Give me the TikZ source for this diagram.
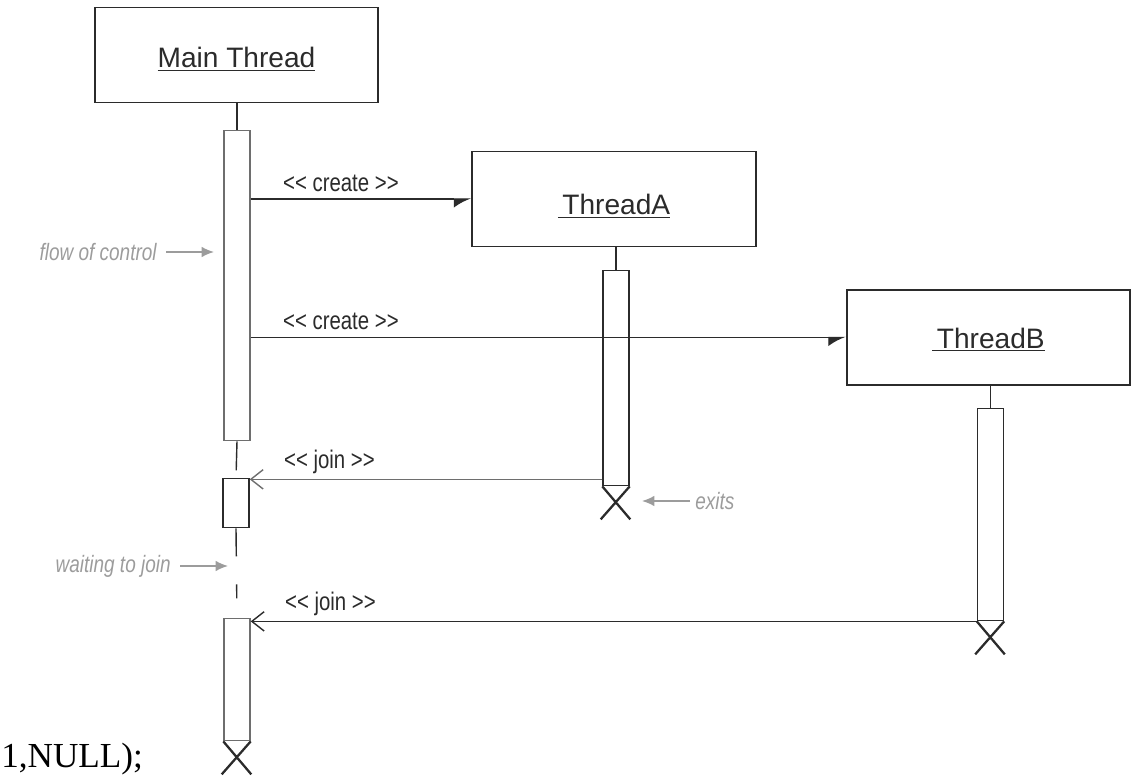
\documentclass[tikz,border=0pt]{standalone}
\usepackage{fontspec}
\setmainfont{Liberation Sans}
\newfontfamily\narrowfont{Liberation Sans}[FakeStretch=0.8]
\newfontfamily\codefont{Liberation Serif}
\usetikzlibrary{arrows.meta, positioning}
\definecolor{inkdark}{HTML}{2B2B2B}
\definecolor{bargray}{HTML}{6E6E6E}
\definecolor{notegray}{HTML}{9C9C9C}

\tikzset{
  thread/.style={draw=inkdark, line width=0.9pt, minimum width=5.67cm, minimum height=1.9cm,
    inner sep=0pt, font=\fontsize{16}{18}\selectfont, text=inkdark},
  activation/.style={draw=inkdark, line width=0.8pt, fill=white, minimum width=0.52cm,
    inner sep=0pt, anchor=north},
  lifeline/.style={draw=inkdark, line width=0.8pt},
  createmsg/.style={draw=inkdark, line width=0.8pt, -{Latex[harpoon,swap,length=9pt,width=10pt]}},
  joinmsg/.style={line width=0.8pt, -{Straight Barb[length=7pt,width=11pt,line width=0.8pt]}},
  msglabel/.style={font=\narrowfont\fontsize{14.5}{16}\selectfont, text=inkdark, inner sep=1pt},
  note/.style={font=\narrowfont\fontsize{13.5}{15}\selectfont\itshape, text=notegray, inner sep=0pt},
  notearrow/.style={draw=notegray, line width=0.9pt, -{Latex[length=7pt,width=6pt]}},
  exitcross/.style={draw=inkdark, line width=1.3pt}
}

\begin{document}
\begin{tikzpicture}[x=0.02cm, y=-0.02cm]
    \useasboundingbox (0,0) rectangle (1134,776);

    % Threads
    \node[thread] (mainthr) at (236.5,55) {\raisebox{-7pt}[0pt][0pt]{\underline{Main Thread}}};
    \node[thread] (threadA) at (614,199) {\raisebox{-9pt}[0pt][0pt]{\underline{\,ThreadA}}};
    \node[thread] (threadB) at (988.5,337.5) {\raisebox{-6pt}[0pt][0pt]{\underline{\,ThreadB}}};

    % Activation bars
    \node[activation, draw=bargray, minimum height=6.2cm] (mainbarA) at (237,130) {};
    \node[activation, minimum height=0.98cm] (joinbox) at (236,478) {};
    \node[activation, draw=bargray, minimum height=2.44cm] (mainbarB) at (237,618) {};
    \node[activation, minimum height=4.3cm] (barA) at (616,270) {};
    \node[activation, minimum height=4.24cm] (barB) at (990.5,408) {};

    % Lifelines
    \draw[lifeline] (mainbarA.north) -- (mainbarA.north |- mainthr.south);
    \draw[lifeline] (barA.north) -- (barA.north |- threadA.south);
    \draw[lifeline] (barB.north) -- (barB.north |- threadB.south);
    \draw[lifeline, dash pattern=on 0.58cm off 1cm] (mainbarA.south) -- (joinbox.north);
    \draw[lifeline, dash pattern=on 0.56cm off 0.56cm on 0.28cm off 1cm] (joinbox.south) -- (mainbarB.north);

    % Thread exits
    \draw[exitcross] (barA.south west) -- ++(28,33) (barA.south east) -- ++(-29,33);
    \draw[exitcross] (barB.south west) -- ++(28,33) (barB.south east) -- ++(-29,33);
    \draw[exitcross] (mainbarB.south west) -- ++(28,33) (mainbarB.south east) -- ++(-29,33);

    % Messages
    \draw[createmsg] (mainbarA.east |- threadA.west) -- node[msglabel, pos=0, anchor=south west, xshift=0.6cm, yshift=3pt] (createAlbl) {<{}< create >{}>} (threadA.west);
    \draw[createmsg] (mainbarA.east |- threadB.west) -- node[msglabel, pos=0, anchor=south west, xshift=0.6cm, yshift=3pt] (createBlbl) {<{}< create >{}>} (threadB.west);
    \draw[joinmsg, draw=bargray] ([yshift=4]barA.south west) -- node[msglabel, pos=1, anchor=south west, xshift=0.64cm, yshift=2pt] (joinAlbl) {<{}< join >{}>} ([yshift=4]barA.south west -| joinbox.east);
    \draw[joinmsg, draw=inkdark] (barB.south west) -- node[msglabel, pos=1, anchor=south west, xshift=0.64cm, yshift=2pt] (joinBlbl) {<{}< join >{}>} (barB.south west -| mainbarB.east);

    % Notes
    \node[note, anchor=east] (flowlbl) at (157,252) {flow of control};
    \coordinate (flowtip) at (214,252);
    \draw[notearrow] (flowlbl.east) ++(9,0) -- (flowtip);
    \node[note, anchor=east] (waitlbl) at (171,566) {waiting to join};
    \coordinate (waittip) at (228,566);
    \draw[notearrow] (waitlbl.east) ++(9,0) -- (waittip);
    \node[note, anchor=west] (exitlbl) at (695,501) {exits};
    \coordinate (exittip) at (642,501);
    \draw[notearrow] (exitlbl.west) ++(-5,0) -- (exittip);

    % stray code line
    \node[anchor=base west, inner sep=0pt, font=\codefont\fontsize{20}{22}\selectfont] (codeline) at (1,768) {1,NULL);};
\end{tikzpicture}
\end{document}
